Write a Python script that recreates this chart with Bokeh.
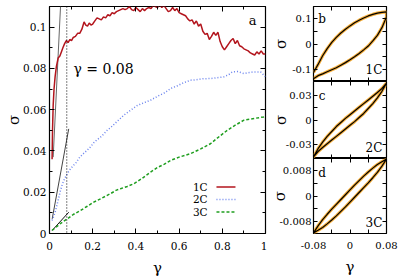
from bokeh.plotting import figure
from bokeh.layouts import row, column
from bokeh.models import FixedTicker, LinearAxis, Label, Range1d, CustomJSTickFormatter, Span
from bokeh.embed import file_html
from bokeh.resources import INLINE

# ---------------- data: main panel (a) ----------------
gamma_1c = [0.012, 0.014, 0.017, 0.021, 0.026, 0.032, 0.040, 0.048, 0.055, 0.062, 0.070, 0.078,
            0.086, 0.094, 0.102, 0.110, 0.120, 0.130, 0.140, 0.150, 0.160, 0.168, 0.176, 0.184,
            0.192, 0.200, 0.210, 0.220, 0.230, 0.240, 0.250, 0.260, 0.270, 0.280, 0.290, 0.300,
            0.310, 0.320, 0.330, 0.340, 0.350, 0.360, 0.370, 0.380, 0.390, 0.400, 0.410, 0.420,
            0.430, 0.440, 0.450, 0.460, 0.470, 0.480, 0.490, 0.500, 0.510, 0.520, 0.530, 0.540,
            0.550, 0.560, 0.570, 0.580, 0.590, 0.600, 0.610, 0.620, 0.630, 0.640, 0.650, 0.660,
            0.670, 0.680, 0.690, 0.700, 0.710, 0.720, 0.730, 0.740, 0.750, 0.760, 0.770, 0.780,
            0.790, 0.800, 0.810, 0.820, 0.830, 0.840, 0.850, 0.860, 0.870, 0.880, 0.890, 0.900,
            0.910, 0.920, 0.930, 0.940, 0.950, 0.960, 0.970, 0.980, 0.990, 1.000]
sigma_1c = [0.036, 0.050, 0.062, 0.070, 0.076, 0.081, 0.085, 0.086, 0.088, 0.090, 0.092, 0.0935,
            0.0925, 0.094, 0.0935, 0.095, 0.0955, 0.097, 0.097, 0.099, 0.1025, 0.101, 0.1005, 0.102,
            0.101, 0.1015, 0.103, 0.1045, 0.104, 0.1035, 0.105, 0.1045, 0.106, 0.1055, 0.107, 0.1065,
            0.1075, 0.108, 0.1085, 0.109, 0.1085, 0.109, 0.110, 0.1085, 0.108, 0.1095, 0.1085, 0.1075,
            0.109, 0.108, 0.109, 0.1095, 0.109, 0.1105, 0.110, 0.1095, 0.111, 0.1095, 0.1105, 0.109,
            0.1075, 0.108, 0.1095, 0.108, 0.109, 0.107, 0.1065, 0.106, 0.1055, 0.104, 0.103, 0.1035,
            0.1015, 0.103, 0.1005, 0.1015, 0.098, 0.0965, 0.097, 0.094, 0.0955, 0.0975, 0.096, 0.0975,
            0.093, 0.0905, 0.089, 0.0905, 0.092, 0.0935, 0.0945, 0.092, 0.0935, 0.091, 0.0905, 0.0895,
            0.089, 0.0885, 0.0875, 0.087, 0.0865, 0.088, 0.087, 0.0885, 0.087, 0.087]

gamma_2c = [0.012, 0.020, 0.028, 0.035, 0.042, 0.051, 0.060, 0.070, 0.082, 0.095, 0.110, 0.120,
            0.140, 0.160, 0.174, 0.190, 0.205, 0.221, 0.240, 0.267, 0.290, 0.310, 0.344, 0.375,
            0.406, 0.440, 0.468, 0.500, 0.530, 0.560, 0.590, 0.620, 0.653, 0.680, 0.710, 0.745,
            0.775, 0.807, 0.830, 0.846, 0.870, 0.900, 0.925, 0.946, 0.977, 0.992, 1.000]
sigma_2c = [0.0063, 0.0085, 0.011, 0.014, 0.017, 0.0209, 0.024, 0.0265, 0.029, 0.031, 0.033, 0.0338,
            0.037, 0.039, 0.0403, 0.042, 0.044, 0.0455, 0.047, 0.050, 0.052, 0.054, 0.0573, 0.0597,
            0.062, 0.0635, 0.0646, 0.0665, 0.068, 0.0702, 0.0715, 0.073, 0.0743, 0.0745, 0.075, 0.0751,
            0.0755, 0.0759, 0.077, 0.0783, 0.0785, 0.0775, 0.078, 0.0783, 0.0783, 0.0768, 0.0759]

gamma_3c = [0.012, 0.030, 0.050, 0.082, 0.110, 0.144, 0.175, 0.205, 0.240, 0.282, 0.310, 0.329,
            0.360, 0.390, 0.430, 0.468, 0.500, 0.530, 0.560, 0.600, 0.653, 0.700, 0.745, 0.780,
            0.823, 0.860, 0.900, 0.950, 0.992, 1.000]
sigma_3c = [0.0015, 0.003, 0.0048, 0.0071, 0.0092, 0.0112, 0.0132, 0.0152, 0.017, 0.0193, 0.021, 0.0217,
            0.0228, 0.0241, 0.0268, 0.0298, 0.032, 0.0335, 0.0354, 0.037, 0.0387, 0.041, 0.0435, 0.0465,
            0.050, 0.0525, 0.0549, 0.0558, 0.0565, 0.0567]

# linear-response tangent lines
tan_1c_gamma = [0.017, 0.051]
tan_1c_sigma = [0.037, 0.110]
tan_2c_gamma = [0.0125, 0.089]
tan_2c_sigma = [0.0071, 0.0507]
tan_3c_gamma = [0.0125, 0.089]
tan_3c_sigma = [0.0015, 0.0103]
gamma_mark = 0.08

x_ticks = [0, 0.2, 0.4, 0.6, 0.8, 1]
x_minor = [0.1, 0.3, 0.5, 0.7, 0.9]
y_ticks = [0, 0.02, 0.04, 0.06, 0.08, 0.1]
y_minor = [0.01, 0.03, 0.05, 0.07, 0.09, 0.11]

series_names = ["1C", "2C", "3C"]
series_colors = ["#b3151d", "#6c84ee", "#1f9e1f"]
series_dash = ["solid", "1 2", "3 2"]

# ---------------- data: Lissajous loops (b, c, d) ----------------
loop_gamma = [-0.08, -0.07, -0.06, -0.05, -0.04, -0.03, -0.02, -0.01, 0.0,
              0.01, 0.02, 0.03, 0.04, 0.05, 0.06, 0.07, 0.08]
loop_b_upper = [-0.112, -0.080, -0.046, -0.018, 0.006, 0.026, 0.043, 0.058, 0.071,
                0.083, 0.093, 0.102, 0.110, 0.116, 0.121, 0.124, 0.126]
loop_b_lower = [-0.136, -0.124, -0.117, -0.109, -0.101, -0.093, -0.083, -0.073, -0.062,
                -0.050, -0.037, -0.023, -0.008, 0.012, 0.034, 0.064, 0.106]
loop_c_upper = [-0.045, -0.035, -0.027, -0.020, -0.014, -0.008, -0.003, 0.002, 0.0065,
                0.011, 0.0155, 0.020, 0.0245, 0.029, 0.0335, 0.0385, 0.045]
loop_c_lower = [-0.045, -0.0385, -0.0335, -0.029, -0.0245, -0.020, -0.0155, -0.011, -0.0065,
                -0.002, 0.003, 0.008, 0.014, 0.020, 0.027, 0.035, 0.045]
loop_d_upper = [-0.0115, -0.0093, -0.0074, -0.0057, -0.0041, -0.0026, -0.0011, 0.0004, 0.0019,
                0.0034, 0.0048, 0.0062, 0.0075, 0.0087, 0.0098, 0.0107, 0.0115]
loop_d_lower = [-0.0115, -0.0107, -0.0098, -0.0087, -0.0075, -0.0062, -0.0048, -0.0034, -0.0019,
                -0.0004, 0.0011, 0.0026, 0.0041, 0.0057, 0.0074, 0.0093, 0.0115]

loop_x_ticks = [-0.08, 0, 0.08]
loop_x_minor = [-0.04, 0.04]
panel_b_ticks = [-0.1, 0, 0.1]
panel_b_minor = [-0.05, 0.05]
panel_c_ticks = [-0.03, 0, 0.03]
panel_c_minor = [-0.015, 0.015]
panel_d_ticks = [-0.008, 0, 0.008]
panel_d_minor = [-0.004, 0.004]

FONT = "DejaVu Serif"
LABEL_FS = "15px"


def setup_axis(ax, major, minor, show, standoff=4, tin=5, min_in=3, fs="10.5px"):
    ax.ticker = FixedTicker(ticks=major, minor_ticks=minor)
    ax.axis_line_color = None
    ax.major_tick_in = tin
    ax.major_tick_out = 0
    ax.minor_tick_in = min_in
    ax.minor_tick_out = 0
    ax.major_tick_line_color = "black"
    ax.minor_tick_line_color = "black"
    ax.major_label_text_font = FONT
    ax.major_label_text_color = "black"
    ax.axis_label_text_font = FONT
    ax.axis_label_text_font_style = "normal"
    ax.axis_label_text_font_size = LABEL_FS
    ax.axis_label_text_color = "black"
    if show:
        ax.formatter = CustomJSTickFormatter(code="return String(tick);")
        ax.major_label_text_font_size = fs
        ax.major_label_standoff = standoff
    else:
        ax.formatter = CustomJSTickFormatter(code="return '';")
        ax.major_label_text_font_size = "1px"
        ax.major_label_standoff = 0


def make_fig(w, h, xr, yr, bl, br, bt, bb):
    f = figure(width=w, height=h, x_range=Range1d(*xr), y_range=Range1d(*yr),
               output_backend="svg", toolbar_location=None,
               min_border_left=bl, min_border_right=br, min_border_top=bt, min_border_bottom=bb)
    f.grid.visible = False
    f.outline_line_color = "black"
    f.outline_line_width = 1.2
    f.background_fill_color = "white"
    f.border_fill_color = "white"
    return f


# ---------------- main panel ----------------
p = make_fig(267, 279, (0, 1), (0, 0.11), 49, 2, 6, 46)
ax_bottom = p.xaxis[0]
ax_left = p.yaxis[0]
setup_axis(ax_bottom, x_ticks, x_minor, True, standoff=8)
setup_axis(ax_left, y_ticks, y_minor, True, standoff=3)
ax_bottom.axis_label = "γ"
ax_bottom.axis_label_standoff = 6
ax_left.axis_label = "σ"
ax_left.axis_label_standoff = -3
ax_top = LinearAxis()
setup_axis(ax_top, x_ticks, x_minor, False)
p.add_layout(ax_top, "above")
ax_right = LinearAxis()
setup_axis(ax_right, y_ticks, y_minor, False)
p.add_layout(ax_right, "right")

p.add_layout(Span(location=gamma_mark, dimension="height", line_color="black",
                  line_width=1, line_dash="1 2"))
p.line(tan_1c_gamma, tan_1c_sigma, line_color="#666666", line_width=1)
p.line(tan_2c_gamma, tan_2c_sigma, line_color="#444444", line_width=1)
p.line(tan_3c_gamma, tan_3c_sigma, line_color="#111111", line_width=1)

curves = [(gamma_1c, sigma_1c), (gamma_2c, sigma_2c), (gamma_3c, sigma_3c)]
for (gx, sy), col, dash in zip(curves, series_colors, series_dash):
    p.line(gx, sy, line_color=col, line_width=1.5, line_dash=dash)

# legend (text on the left, sample on the right)
leg_y = [0.0225, 0.0165, 0.0104]
for name, col, dash, yy in zip(series_names, series_colors, series_dash, leg_y):
    p.add_layout(Label(x=0.732, y=yy, text=name, text_align="right", text_baseline="middle",
                       text_font=FONT, text_font_size="10.5px", text_color="black"))
    p.line([0.773, 0.861], [yy, yy], line_color=col, line_width=1.5, line_dash=dash)

p.add_layout(Label(x=0.111, y=0.0797, text="γ = 0.08", text_align="left", text_baseline="middle",
                   text_font=FONT, text_font_size="14px", text_color="black"))
p.add_layout(Label(x=0.94, y=0.103, text="a", text_align="center", text_baseline="middle",
                   text_font=FONT, text_font_size="13px", text_color="black"))

# ---------------- loop panels ----------------
ORANGE = "#f5a524"


def loop_panel(h, yr, yticks, yminor, upper, lower, tag, tag_y, name, name_y, bt, bb,
               show_x, sig_standoff):
    f = make_fig(132, h, (-0.08, 0.08), yr, 46, 13, bt, bb)
    a_bottom = f.xaxis[0]
    a_left = f.yaxis[0]
    setup_axis(a_bottom, loop_x_ticks, loop_x_minor, show_x, standoff=8, tin=4, min_in=4, fs="10px")
    setup_axis(a_left, yticks, yminor, True, standoff=2, tin=4, min_in=4, fs="10px")
    a_left.axis_label = "σ"
    a_left.axis_label_standoff = sig_standoff
    if show_x:
        a_bottom.axis_label = "γ"
        a_bottom.axis_label_standoff = 6
    a_top = LinearAxis()
    setup_axis(a_top, loop_x_ticks, loop_x_minor, False, tin=4, min_in=4)
    f.add_layout(a_top, "above")
    a_right = LinearAxis()
    setup_axis(a_right, yticks, yminor, False, tin=4, min_in=4)
    f.add_layout(a_right, "right")
    xs = loop_gamma + loop_gamma[::-1]
    ys = lower + upper[::-1]
    f.line(xs, ys, line_color=ORANGE, line_width=3.2, line_alpha=0.9)
    f.line(xs, ys, line_color="black", line_width=1.2)
    f.add_layout(Label(x=-0.061, y=tag_y, text=tag, text_align="center", text_baseline="middle",
                       text_font=FONT, text_font_size="12px", text_color="black"))
    f.add_layout(Label(x=0.071, y=name_y, text=name, text_align="right", text_baseline="middle",
                       text_font=FONT, text_font_size="12px", text_color="black"))
    return f


pb = loop_panel(81, (-0.147, 0.147), panel_b_ticks, panel_b_minor, loop_b_upper, loop_b_lower,
                "b", 0.098, "1C", -0.103, 6, 0, False, -1)
pc = loop_panel(77, (-0.047, 0.047), panel_c_ticks, panel_c_minor, loop_c_upper, loop_c_lower,
                "c", 0.0295, "2C", -0.034, 0, 0, False, -7)
pd = loop_panel(121, (-0.0117, 0.0117), panel_d_ticks, panel_d_minor, loop_d_upper, loop_d_lower,
                "d", 0.0073, "3C", -0.0083, 0, 46, True, -13)

layout = row(p, column(pb, pc, pd))

open("out.html", "w").write(file_html(layout, INLINE))
